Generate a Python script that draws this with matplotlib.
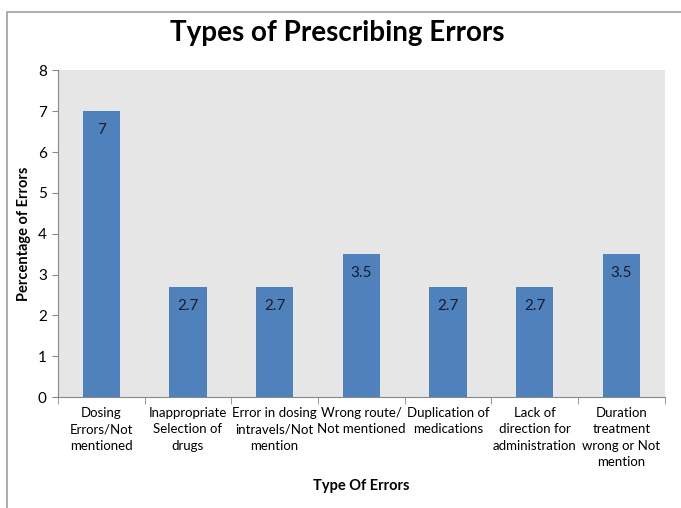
import numpy as np
import matplotlib.pyplot as plt
from matplotlib.patches import Rectangle

categories = ["Dosing\nErrors/Not\nmentioned", "Inappropriate\nSelection of\ndrugs",
              "Error in dosing\nintravels/Not\nmention", "Wrong route/\nNot mentioned",
              "Duplication of\nmedications", "Lack of\ndirection for\nadministration",
              "Duration\ntreatment\nwrong or Not\nmention"]
values = [7, 2.7, 2.7, 3.5, 2.7, 2.7, 3.5]
value_labels = ["7", "2.7", "2.7", "3.5", "2.7", "2.7", "3.5"]

plt.rcParams['font.family'] = ['Lato', 'DejaVu Sans']

fig = plt.figure(figsize=(6.81, 5.08), dpi=100)
ax = fig.add_axes([0.085, 0.2185, 0.891, 0.643])

# outer frame like the excel chart area
fig.patches.append(Rectangle((7/681, -0.01), 1.0, 1 - 12/508 + 0.01, transform=fig.transFigure,
                             fill=False, edgecolor='#a0a0a0', linewidth=1.2))

x = np.arange(len(categories))
ax.set_facecolor('#e6e6e6')
bars = ax.bar(x, values, width=0.43, color='#4f81bd')

for xi, v, lab in zip(x, values, value_labels):
    ax.annotate(lab, (xi, v), xytext=(0, -19), textcoords='offset pixels',
                ha='center', va='center', fontsize=11, color='#1a1a2a')

ax.set_xlim(-0.5, len(categories) - 0.5)
ax.set_ylim(0, 8)
ax.set_yticks(range(0, 9))
ax.tick_params(axis='y', labelsize=11, length=4, color='#888888', pad=4)
ax.set_xticks(x)
ax.set_xticklabels(categories, fontsize=9.5, linespacing=1.45)
ax.tick_params(axis='x', length=0, pad=7)
ax.set_xticks(np.arange(-0.5, len(categories)), minor=True)
ax.tick_params(axis='x', which='minor', length=5, color='#888888')

for s in ['top', 'right']:
    ax.spines[s].set_visible(False)
ax.spines['left'].set_color('#888888')
ax.spines['bottom'].set_color('#888888')

ax.set_ylabel('Percentage of Errors', fontsize=10.5, fontweight='bold', labelpad=5)
ax.set_xlabel('Type Of Errors', fontsize=10.5, fontweight='bold', labelpad=8)
fig.text(0.495, 0.935, 'Types of Prescribing Errors', ha='center', va='center',
         fontsize=20, fontweight='bold')

fig.savefig('out.png', dpi=100)
